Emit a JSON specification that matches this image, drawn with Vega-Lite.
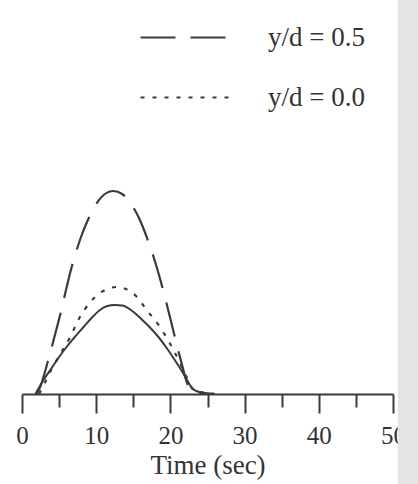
{
  "$schema": "https://vega.github.io/schema/vega-lite/v6.json",
  "width": 371,
  "height": 394,
  "autosize": {"type": "none"},
  "padding": {"left": 22, "top": 0, "right": 25, "bottom": 90},
  "background": "#ffffff",
  "config": {
    "view": {"stroke": null},
    "font": "Liberation Serif"
  },
  "datasets": {
    "profiles": [
      {"t": 2.0, "v": 0.0, "case": "y/d = 0.5"},
      {"t": 2.5, "v": 0.08, "case": "y/d = 0.5"},
      {"t": 3.5, "v": 0.33, "case": "y/d = 0.5"},
      {"t": 5.0, "v": 0.75, "case": "y/d = 0.5"},
      {"t": 6.7, "v": 1.27, "case": "y/d = 0.5"},
      {"t": 8.0, "v": 1.58, "case": "y/d = 0.5"},
      {"t": 9.0, "v": 1.76, "case": "y/d = 0.5"},
      {"t": 10.0, "v": 1.9, "case": "y/d = 0.5"},
      {"t": 11.0, "v": 1.99, "case": "y/d = 0.5"},
      {"t": 12.3, "v": 2.03, "case": "y/d = 0.5"},
      {"t": 13.5, "v": 2.0, "case": "y/d = 0.5"},
      {"t": 14.5, "v": 1.92, "case": "y/d = 0.5"},
      {"t": 15.7, "v": 1.77, "case": "y/d = 0.5"},
      {"t": 17.0, "v": 1.53, "case": "y/d = 0.5"},
      {"t": 18.15, "v": 1.27, "case": "y/d = 0.5"},
      {"t": 19.5, "v": 0.9, "case": "y/d = 0.5"},
      {"t": 20.5, "v": 0.6, "case": "y/d = 0.5"},
      {"t": 21.5, "v": 0.31, "case": "y/d = 0.5"},
      {"t": 22.3, "v": 0.1, "case": "y/d = 0.5"},
      {"t": 23.0, "v": 0.03, "case": "y/d = 0.5"},
      {"t": 24.0, "v": 0.01, "case": "y/d = 0.5"},
      {"t": 26.0, "v": 0.0, "case": "y/d = 0.5"},
      {"t": 2.3, "v": 0.0, "case": "y/d = 0.0"},
      {"t": 3.0, "v": 0.1, "case": "y/d = 0.0"},
      {"t": 4.0, "v": 0.25, "case": "y/d = 0.0"},
      {"t": 5.0, "v": 0.38, "case": "y/d = 0.0"},
      {"t": 6.5, "v": 0.57, "case": "y/d = 0.0"},
      {"t": 7.8, "v": 0.77, "case": "y/d = 0.0"},
      {"t": 9.0, "v": 0.9, "case": "y/d = 0.0"},
      {"t": 10.5, "v": 1.01, "case": "y/d = 0.0"},
      {"t": 11.5, "v": 1.05, "case": "y/d = 0.0"},
      {"t": 12.8, "v": 1.07, "case": "y/d = 0.0"},
      {"t": 14.0, "v": 1.05, "case": "y/d = 0.0"},
      {"t": 15.5, "v": 0.97, "case": "y/d = 0.0"},
      {"t": 16.8, "v": 0.84, "case": "y/d = 0.0"},
      {"t": 18.6, "v": 0.67, "case": "y/d = 0.0"},
      {"t": 19.9, "v": 0.51, "case": "y/d = 0.0"},
      {"t": 21.3, "v": 0.31, "case": "y/d = 0.0"},
      {"t": 22.3, "v": 0.15, "case": "y/d = 0.0"},
      {"t": 22.9, "v": 0.06, "case": "y/d = 0.0"},
      {"t": 23.5, "v": 0.03, "case": "y/d = 0.0"},
      {"t": 25.0, "v": 0.01, "case": "y/d = 0.0"},
      {"t": 26.0, "v": 0.0, "case": "y/d = 0.0"}
    ],
    "unlabeled": [
      {"t": 1.8, "v": 0.0},
      {"t": 2.9, "v": 0.14},
      {"t": 4.0, "v": 0.26},
      {"t": 5.0, "v": 0.37},
      {"t": 6.0, "v": 0.47},
      {"t": 7.0, "v": 0.56},
      {"t": 8.3, "v": 0.67},
      {"t": 9.5, "v": 0.77},
      {"t": 10.5, "v": 0.84},
      {"t": 11.5, "v": 0.88},
      {"t": 12.5, "v": 0.89},
      {"t": 13.5, "v": 0.885},
      {"t": 14.5, "v": 0.85},
      {"t": 15.5, "v": 0.79},
      {"t": 16.5, "v": 0.72},
      {"t": 17.5, "v": 0.645},
      {"t": 18.5, "v": 0.56},
      {"t": 19.5, "v": 0.46},
      {"t": 20.5, "v": 0.35},
      {"t": 21.7, "v": 0.21},
      {"t": 22.4, "v": 0.12},
      {"t": 22.9, "v": 0.06},
      {"t": 23.5, "v": 0.03},
      {"t": 24.5, "v": 0.01},
      {"t": 26.0, "v": 0.0}
    ],
    "edge": [{"page": "edge"}]
  },
  "resolve": {"axis": {"x": "independent"}},
  "layer": [
    {
      "data": {"name": "unlabeled"},
      "mark": {"type": "line", "interpolate": "monotone", "color": "#3a3a3a", "strokeWidth": 2},
      "encoding": {
        "x": {
          "field": "t", "type": "quantitative",
          "scale": {"domain": [0, 50], "nice": false, "zero": false},
          "axis": {
            "orient": "bottom",
            "values": [0, 10, 20, 30, 40, 50],
            "title": "Time (sec)",
            "titleFont": "Liberation Serif",
            "titleFontSize": 27,
            "titleFontWeight": "normal",
            "titleColor": "#333333",
            "titlePadding": 4,
            "labelFont": "Liberation Serif",
            "labelFontSize": 25,
            "labelColor": "#333333",
            "labelPadding": 10,
            "labelFlush": false,
            "labelOverlap": false,
            "tickSize": 19,
            "tickWidth": 2,
            "tickColor": "#3a3a3a",
            "domainColor": "#3a3a3a",
            "domainWidth": 2,
            "grid": false
          }
        },
        "y": {
          "field": "v", "type": "quantitative",
          "scale": {"domain": [0, 3.94], "nice": false},
          "axis": null
        }
      }
    },
    {
      "data": {"name": "profiles"},
      "mark": {"type": "line", "interpolate": "monotone", "color": "#3a3a3a", "strokeWidth": 2.2},
      "encoding": {
        "x": {
          "field": "t", "type": "quantitative",
          "axis": {
            "orient": "bottom",
            "values": [5, 15, 25, 35, 45],
            "labels": false,
            "title": null,
            "domain": false,
            "tickSize": 13,
            "tickWidth": 2,
            "tickColor": "#3a3a3a",
            "grid": false
          }
        },
        "y": {"field": "v", "type": "quantitative", "axis": null},
        "strokeDash": {
          "field": "case", "type": "nominal",
          "scale": {"domain": ["y/d = 0.5", "y/d = 0.0"], "range": [[35, 15], [4, 8]]},
          "legend": {
            "title": null,
            "orient": "none",
            "legendX": 117,
            "legendY": -9,
            "padding": 0,
            "symbolType": "stroke",
            "symbolSize": 8100,
            "symbolStrokeWidth": 2.2,
            "symbolStrokeColor": "#3a3a3a",
            "labelFont": "Liberation Serif",
            "labelFontSize": 27,
            "labelColor": "#333333",
            "labelOffset": 36,
            "rowPadding": -39
          }
        }
      }
    },
    {
      "data": {"name": "edge"},
      "mark": {"type": "rect", "color": "#e4e4e2"},
      "encoding": {
        "x": {"datum": 50.65, "type": "quantitative", "axis": null},
        "x2": {"datum": 55},
        "y": {"datum": 5, "type": "quantitative", "axis": null},
        "y2": {"datum": -1.5}
      }
    }
  ]
}
